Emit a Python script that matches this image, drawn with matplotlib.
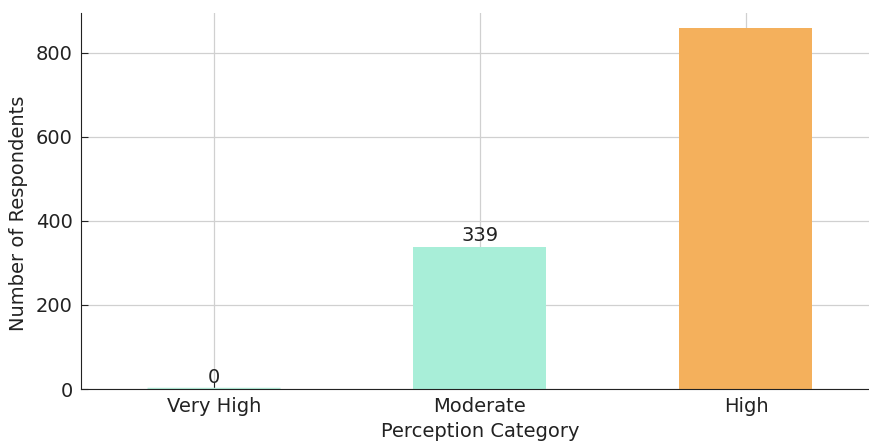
import matplotlib.pyplot as plt

# dados
categorias = ['Very High', 'Moderate', 'High']
respondentes = [0, 339, 860]
cores = ['#b4ecd9', '#a8eed8', '#f4b05c']
rotulos_visiveis = [True, True, False]

fig = plt.figure(figsize=(8.69, 4.41), dpi=100)
ax = fig.add_axes([0.0932, 0.1179, 0.9183, 0.8526])

x = range(len(categorias))
ax.bar(x, respondentes, width=0.5, color=cores, edgecolor=cores, linewidth=[2.5, 0, 0], zorder=2)

for i, v in enumerate(respondentes):
    if rotulos_visiveis[i]:
        ax.text(i, v + 4, str(v), ha='center', va='bottom', fontsize=14, color='#222222', zorder=3)

ax.set_xticks(list(x))
ax.set_xticklabels(categorias)
ax.set_xlim(-0.5, 2.5)
ax.set_ylim(0, 895)
ax.set_yticks([0, 200, 400, 600, 800])

ax.grid(True, color='#d0d0d0', linewidth=0.9, zorder=0)
ax.set_axisbelow(True)
ax.tick_params(direction='in', labelsize=14, colors='#222222', length=5, pad=6)
ax.spines['top'].set_visible(False)
ax.spines['right'].set_visible(False)
ax.spines['left'].set_color('#222222')
ax.spines['bottom'].set_color('#222222')

ax.set_xlabel('Perception Category', fontsize=14, color='#222222', labelpad=4)
ax.set_ylabel('Number of Respondents', fontsize=14, color='#222222')
ax.yaxis.set_label_coords(-0.067, 0.468)

plt.savefig('out.png', dpi=100)
